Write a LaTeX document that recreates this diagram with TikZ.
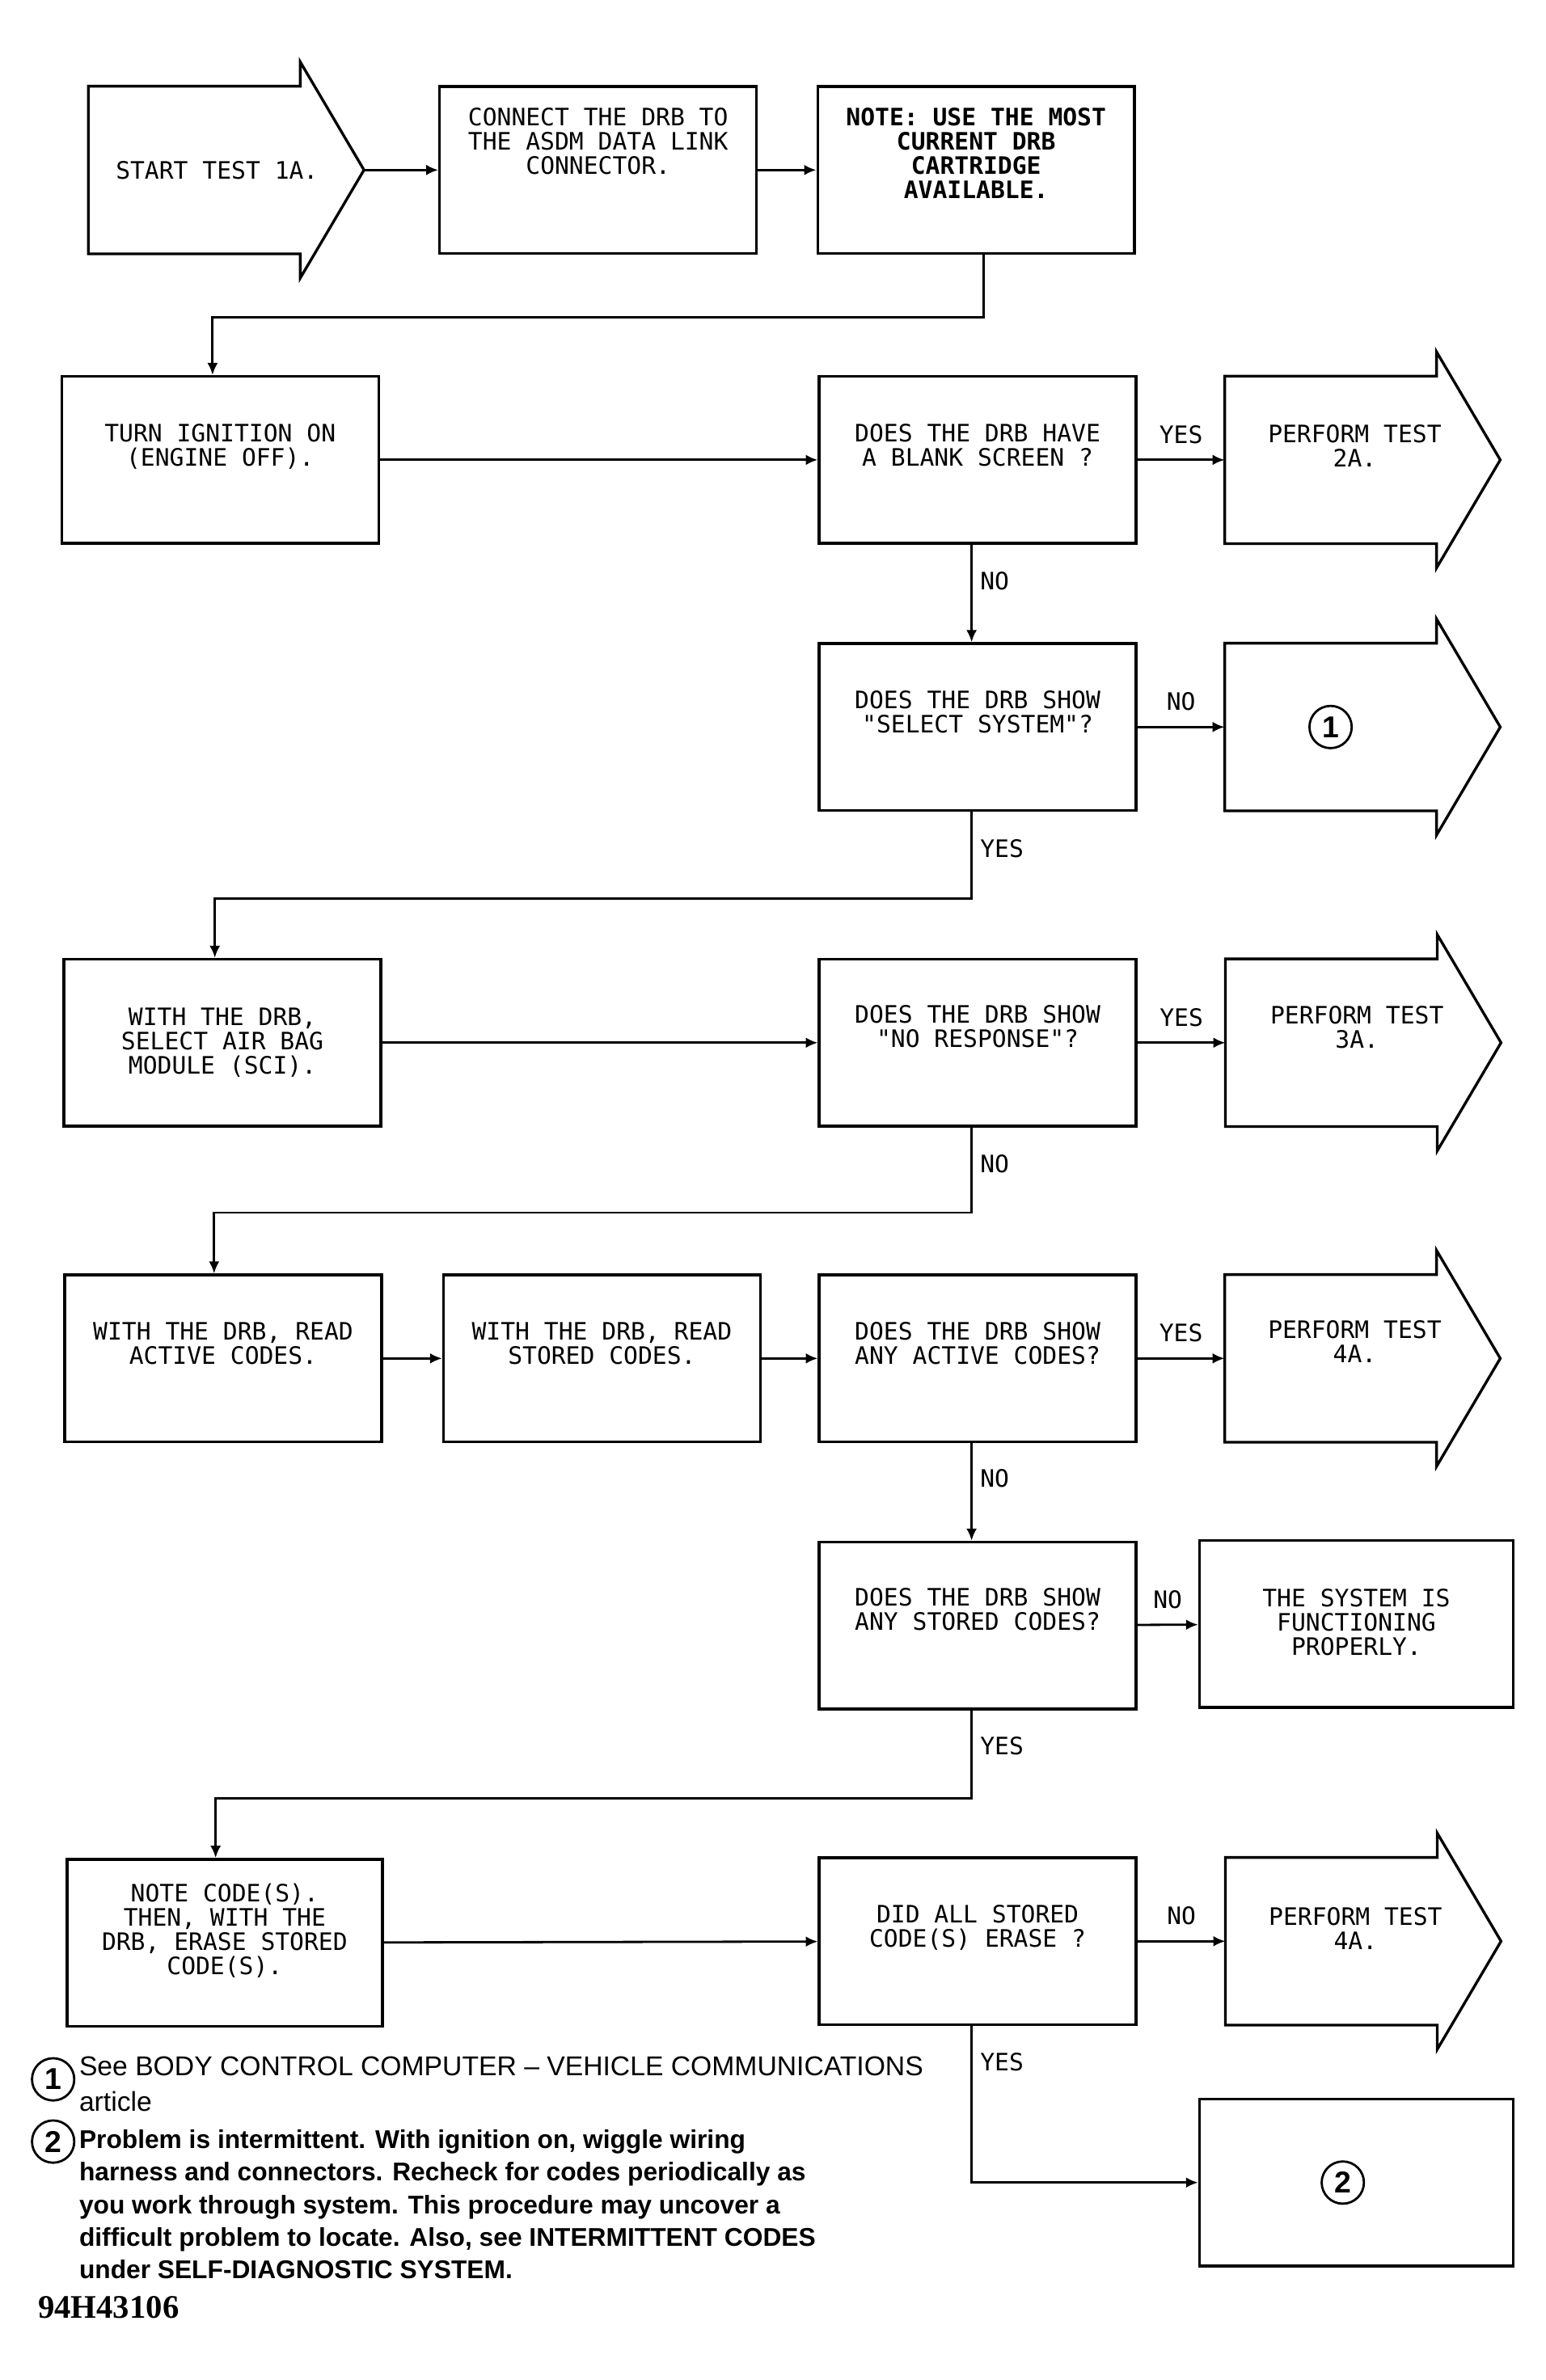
\documentclass[tikz,border=0pt]{standalone}
\usepackage{fontspec}
\setmainfont{Liberation Sans}
\newfontfamily\plotfont{DejaVu Sans Mono}
\newfontfamily\figfont{Liberation Serif}
\usetikzlibrary{positioning,calc,arrows.meta}

\tikzset{
  box/.style={draw, line width=1.8pt, minimum width=210pt, minimum height=110.7pt, inner sep=0pt},
  shaft/.style={minimum width=140pt, minimum height=110.7pt, inner sep=0pt},
  boxline/.style={line width=1.8pt},
  txt/.style={font=\plotfont\fontsize{15.9pt}{16.1pt}\selectfont, align=center, inner sep=0pt},
  lab/.style={font=\plotfont\fontsize{15.9pt}{16.1pt}\selectfont, inner sep=2pt},
  flow/.style={line width=1.5pt, -{Latex[length=8pt,width=7pt]}},
  num/.style={draw, circle, line width=1.5pt, minimum size=28pt, inner sep=0pt, font=\bfseries\fontsize{20pt}{20pt}\selectfont},
}

% arrow shaped box drawn round a shaft node
\newcommand{\headbox}[1]{%
  \draw[boxline] (#1.north east) -- (#1.north west) -- (#1.south west) -- (#1.south east)
    -- ++(0,16) -- ($(#1.east)+(42,0)$) coordinate (#1-tip) -- ($(#1.north east)+(0,-16)$) -- cycle;}

\begin{document}
\begin{tikzpicture}[x=1.006pt,y=-1.006pt]
\useasboundingbox (0,0) rectangle (1017.9,1568.1);

% row 1
\node[shaft] (start) at (128,112) {};
\headbox{start}
\node[txt] (start-t) at ([xshift=15pt]start.center) {START TEST 1A.};
\node[box] (conn) at (394,112) {};
\node[txt, below=15pt of conn.north] (conn-t) {CONNECT THE DRB TO\\THE ASDM DATA LINK\\CONNECTOR.};
\node[box] (note) at (643,112) {};
\node[txt, font=\plotfont\bfseries\fontsize{15.9pt}{16.1pt}\selectfont, below=15pt of note.north] (note-t) {NOTE: USE THE MOST\\CURRENT DRB\\CARTRIDGE\\AVAILABLE.};

% row 2
\node[box] (turn) at (145,303) {};
\node[txt, below=32pt of turn.north] (turn-t) {TURN IGNITION ON\\(ENGINE OFF).};
\node[box] (blank) at (644,303) {};
\node[txt, below=32pt of blank.north] (blank-t) {DOES THE DRB HAVE\\A BLANK SCREEN ?};
\node[shaft] (p2) at (876.5,303) {};
\headbox{p2}
\node[txt, below=32pt of p2.north, xshift=16pt] (p2-t) {PERFORM TEST\\2A.};

% row 3
\node[box] (select) at (644,479) {};
\node[txt, below=32pt of select.north] (select-t) {DOES THE DRB SHOW\\"SELECT SYSTEM"?};
\node[shaft] (c1) at (876.5,479) {};
\headbox{c1}
\node[num] (c1-n) at (c1.center) {1};

% row 4
\node[box] (airbag) at (146.5,687) {};
\node[txt, below=33pt of airbag.north] (airbag-t) {WITH THE DRB,\\SELECT AIR BAG\\MODULE (SCI).};
\node[box] (noresp) at (644,687) {};
\node[txt, below=31pt of noresp.north] (noresp-t) {DOES THE DRB SHOW\\"NO RESPONSE"?};
\node[shaft] (p3) at (877,687) {};
\headbox{p3}
\node[txt, below=31pt of p3.north, xshift=17pt] (p3-t) {PERFORM TEST\\3A.};

% row 5
\node[box] (active) at (147,895) {};
\node[txt, below=32pt of active.north] (active-t) {WITH THE DRB, READ\\ACTIVE CODES.};
\node[box] (stored) at (396.5,895) {};
\node[txt, below=32pt of stored.north] (stored-t) {WITH THE DRB, READ\\STORED CODES.};
\node[box] (anyact) at (644,895) {};
\node[txt, below=32pt of anyact.north] (anyact-t) {DOES THE DRB SHOW\\ANY ACTIVE CODES?};
\node[shaft] (p4) at (876.5,895) {};
\headbox{p4}
\node[txt, below=30pt of p4.north, xshift=16pt] (p4-t) {PERFORM TEST\\4A.};

% row 6
\node[box] (anystored) at (644,1071) {};
\node[txt, below=31pt of anystored.north] (anystored-t) {DOES THE DRB SHOW\\ANY STORED CODES?};
\node[box, minimum width=208pt] (system) at (893.5,1070) {};
\node[txt, below=33pt of system.north] (system-t) {THE SYSTEM IS\\FUNCTIONING\\PROPERLY.};

% row 7
\node[box, minimum width=209pt] (notecode) at (148,1280) {};
\node[txt, below=17pt of notecode.north] (notecode-t) {NOTE CODE(S).\\THEN, WITH THE\\DRB, ERASE STORED\\CODE(S).};
\node[box] (didall) at (644,1279) {};
\node[txt, below=32pt of didall.north] (didall-t) {DID ALL STORED\\CODE(S) ERASE ?};
\node[shaft] (p4b) at (877,1279) {};
\headbox{p4b}
\node[txt, below=33pt of p4b.north, xshift=16pt] (p4b-t) {PERFORM TEST\\4A.};

\node[box, minimum width=208pt] (box2) at (893.5,1438) {};
\node[num] (box2-n) at ([xshift=-9pt]box2.center) {2};

% connectors
\draw[flow] (start-tip) -- (conn);
\draw[flow] (conn) -- (note);
\draw[flow] ([xshift=5pt]note.south) -- ++(0,41) -| ([xshift=-5pt]turn.north);
\draw[flow] (turn) -- (blank);
\draw[flow] (blank) -- node[lab, above=8pt] (yes1) {YES} (p2);
\draw[flow] ([xshift=-4pt]blank.south) -- node[lab, right=3pt, pos=0.37] (no1) {NO} ([xshift=-4pt]select.north);
\draw[flow] (select) -- node[lab, above=8pt] (no2) {NO} (c1);
\draw[flow] ([xshift=-4pt]select.south) -- node[lab, right=3pt, pos=0.42] (yes2) {YES} ++(0,57) -| ([xshift=-5pt]airbag.north);
\draw[flow] (airbag) -- (noresp);
\draw[flow] (noresp) -- node[lab, above=8pt] (yes3) {YES} (p3);
\draw[flow] ([xshift=-4pt]noresp.south) -- node[lab, right=3pt, pos=0.43] (no3) {NO} ++(0,56) -| ([xshift=-6pt]active.north);
\draw[flow] (active) -- (stored);
\draw[flow] (stored) -- (anyact);
\draw[flow] (anyact) -- node[lab, above=8pt] (yes4) {YES} (p4);
\draw[flow] ([xshift=-4pt]anyact.south) -- node[lab, right=3pt, pos=0.36] (no4) {NO} ([xshift=-4pt]anystored.north);
\draw[flow] (anystored) -- node[lab, above=8pt] (no5) {NO} (system);
\draw[flow] ([xshift=-4pt]anystored.south) -- node[lab, right=3pt, pos=0.4] (yes5) {YES} ++(0,58) -| ([xshift=-6pt]notecode.north);
\draw[flow] (notecode) -- (didall);
\draw[flow] (didall) -- node[lab, above=8pt] (no6) {NO} (p4b);
\draw[flow] ([xshift=-4pt]didall.south) |- node[lab, right=3pt, pos=0.115] (yes6) {YES} (box2.west);

% notes
\node[num] (leg1) at (35,1370) {1};
\node[anchor=north west, inner sep=0pt, align=left, font=\fontsize{18.05pt}{23.2pt}\selectfont] (leg1-t) at (52,1355) {See BODY CONTROL COMPUTER – VEHICLE COMMUNICATIONS\\article};
\node[num] (leg2) at (35,1411) {2};
\node[anchor=north west, inner sep=0pt, align=left, font=\bfseries\fontsize{17pt}{21.6pt}\selectfont] (leg2-t) at (52,1403) {Problem is intermittent. With ignition on, wiggle wiring\\harness and connectors. Recheck for codes periodically as\\you work through system. This procedure may uncover a\\difficult problem to locate. Also, see INTERMITTENT CODES\\under SELF-DIAGNOSTIC SYSTEM.};
\node[anchor=west, inner sep=0pt, font=\figfont\bfseries\fontsize{21.8pt}{22pt}\selectfont] (figid) at (25,1520) {94H43106};
\end{tikzpicture}
\end{document}
